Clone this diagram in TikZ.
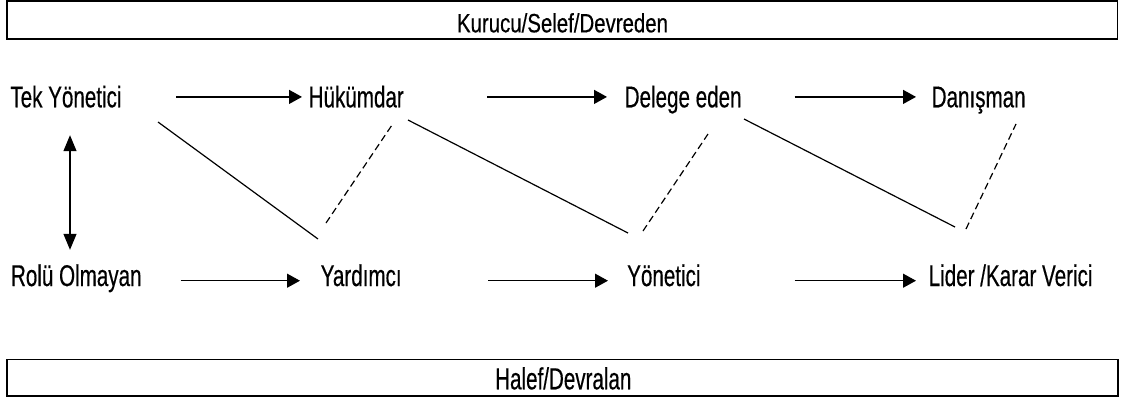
\documentclass[tikz,border=0pt]{standalone}
\usepackage{fontspec}
\newfontfamily\rolefont{Liberation Sans}[FakeStretch=0.687,FakeBold=0.4]
\newfontfamily\headfont{Liberation Sans}[FakeStretch=0.77,FakeBold=0.4]
\newfontfamily\footfont{Liberation Sans}[FakeStretch=0.675,FakeBold=0.4]
\usetikzlibrary{arrows.meta}

\begin{document}
\begin{tikzpicture}[x=1pt,y=-1pt,
  role/.style={inner sep=0pt, anchor=base west,
    font=\rolefont\fontsize{30}{33}\selectfont, text height=20.8pt, text depth=0pt},
  lowrole/.style={role, text depth=10.2pt},
  headtext/.style={inner sep=0pt, anchor=base,
    font=\headfont\fontsize{26.5}{29}\selectfont},
  foottext/.style={inner sep=0pt, anchor=base,
    font=\footfont\fontsize{30.5}{33}\selectfont},
  band/.style={draw, line width=1.6pt, inner sep=0pt, minimum width=1110.5pt},
  flow/.style={line width=1.3pt, -{Triangle[length=13pt,width=14pt]}},
  swap/.style={line width=1.3pt, {Triangle[length=16pt,width=13pt]}-{Triangle[length=16pt,width=13pt]}},
  link/.style={line width=1.2pt},
  hint/.style={line width=1.2pt, dash pattern=on 7pt off 4pt},
]
\useasboundingbox (0,0) rectangle (1122,400);

% header and footer bands
\node[band, minimum height=38pt] (topband) at (562.4,20.2) {};
\node[headtext] (kurucu) at (562.5,32.3) {Kurucu/Selef/Devreden};
\node[band, minimum height=36.4pt] (botband) at (562.5,377.5) {};
\node[foottext] (halef) at (563.3,389.3) {Halef/Devralan};

% upper row of roles
\node[role] (tek)    at (10.2,107.3)  {Tek Yönetici};
\node[role] (hukum)  at (308.5,107.3) {Hükümdar};
\node[role] (delege) at (624.5,107.3) {Delege eden};
\node[role] (danis)  at (931.5,107.3) {Danışman};

% lower row of roles
\node[lowrole] (rolu)  at (10.8,286)  {Rolü Olmayan};
\node[lowrole] (yard)  at (320.5,286) {Yardımcı};
\node[lowrole] (yonet) at (627,286)   {Yönetici};
\node[lowrole] (lider) at (928.5,286) {Lider /Karar Verici};

% horizontal progressions
\draw[flow, shorten <=54.5pt, shorten >=6.5pt]  (tek.east)    -- (hukum.west);
\draw[flow, shorten <=83.5pt, shorten >=17.5pt] (hukum.east)  -- (delege.west);
\draw[flow, shorten <=52.8pt, shorten >=15.5pt] (delege.east) -- (danis.west);
\draw[flow, shorten <=38.8pt, shorten >=20.5pt] (rolu.east)   -- (yard.west);
\draw[flow, shorten <=86.4pt, shorten >=19pt]   (yard.east)   -- (yonet.west);
\draw[flow, shorten <=93.8pt, shorten >=12.5pt] (yonet.east)  -- (lider.west);

% vertical two-way link on the left
\coordinate (axis) at (70,0);
\draw[swap, shorten <=27.7pt, shorten >=15.2pt] (tek.south -| axis) -- (rolu.north -| axis);

% diagonal links between the rows
\coordinate (s1a) at (158,122);  \coordinate (s1b) at (318,239);
\coordinate (s2a) at (408,120);  \coordinate (s2b) at (628,233);
\coordinate (s3a) at (744,119);  \coordinate (s3b) at (955,227);
\draw[link] (s1a) -- (s1b);
\draw[link] (s2a) -- (s2b);
\draw[link] (s3a) -- (s3b);

\coordinate (d1a) at (326,223);  \coordinate (d1b) at (392,125);
\coordinate (d2a) at (643,231);  \coordinate (d2b) at (708,134);
\coordinate (d3a) at (966,229);  \coordinate (d3b) at (1016,124);
\draw[hint] (d1a) -- (d1b);
\draw[hint] (d2a) -- (d2b);
\draw[hint] (d3a) -- (d3b);
\end{tikzpicture}
\end{document}
